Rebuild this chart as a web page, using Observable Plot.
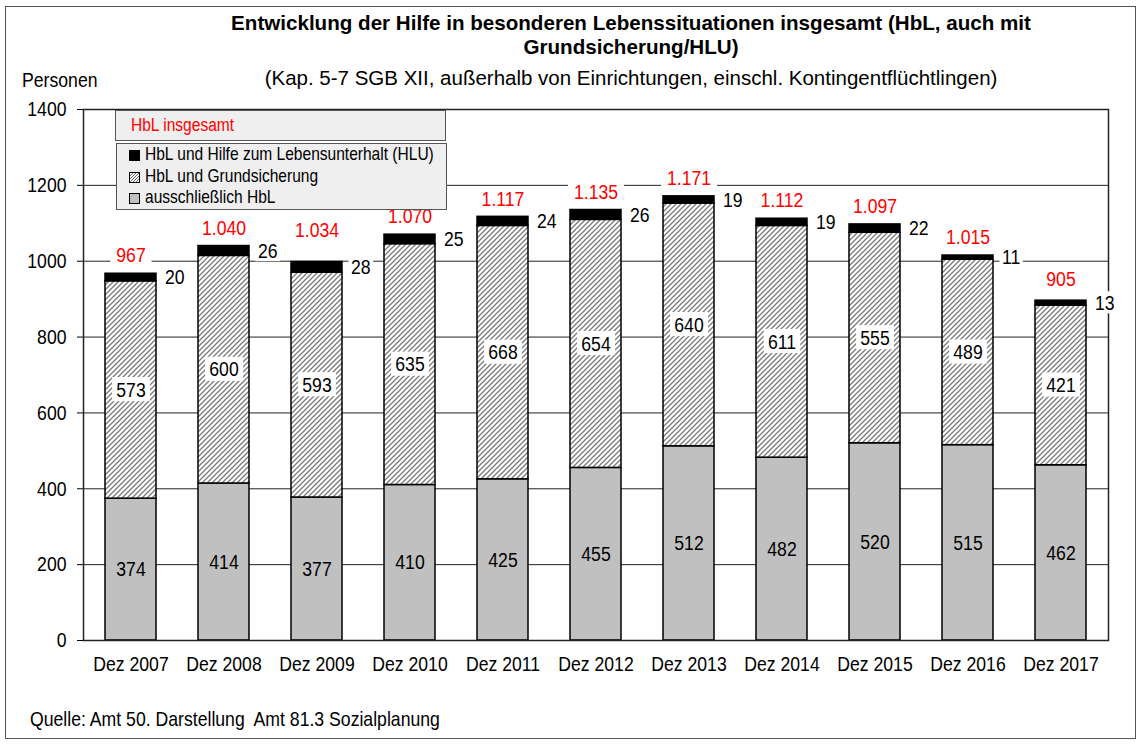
<!DOCTYPE html>
<html>
<head>
<meta charset="utf-8">
<script src="https://cdn.jsdelivr.net/npm/d3@7"></script>
<script src="https://cdn.jsdelivr.net/npm/@observablehq/plot@0.6"></script>
<style>
  html, body { margin: 0; padding: 0; background: #fff; }
  body { width: 1141px; height: 744px; position: relative; overflow: hidden;
         font-family: "Liberation Sans", Arial, sans-serif; color: #000; }
  .abs { position: absolute; line-height: 1; white-space: pre; }
  #frame { position: absolute; left: 5px; top: 6px; width: 1131px; height: 733px; border: 1px solid #555; box-sizing: border-box; }
  #chart { position: absolute; left: 0; top: 95px; }
  .lbox { position: absolute; background: #efefef; border: 1px solid #555; box-sizing: border-box; }
  .sw { position: absolute; width: 11px; height: 11px; box-sizing: border-box; border: 1px solid #000; }
</style>
</head>
<body>
<svg width="0" height="0" style="position:absolute">
  <defs>
    <pattern id="hatch" patternUnits="userSpaceOnUse" width="5" height="5">
      <rect width="5" height="5" fill="#fff"/>
      <path d="M-1,1 l2,-2 M0,5 l5,-5 M4,6 l2,-2" stroke="#7a7a7a" stroke-width="1.3"/>
    </pattern>
    <pattern id="hatchS" patternUnits="userSpaceOnUse" width="3" height="3">
      <rect width="3" height="3" fill="#fff"/>
      <path d="M-1,1 l2,-2 M0,3 l3,-3 M2,4 l2,-2" stroke="#555" stroke-width="0.9"/>
    </pattern>
  </defs>
</svg>
<div id="frame"></div>
<div id="chart"></div>
<script>
// ---- data ----
const years = ["Dez 2007","Dez 2008","Dez 2009","Dez 2010","Dez 2011","Dez 2012","Dez 2013","Dez 2014","Dez 2015","Dez 2016","Dez 2017"];
const nurHbL = [374,414,377,410,425,455,512,482,520,515,462];
const hblGrundsicherung = [573,600,593,635,668,654,640,611,555,489,421];
const hblHLU = [20,26,28,25,24,26,19,19,22,11,13];
const totals = [967,1040,1034,1070,1117,1135,1171,1112,1097,1015,905];
const seriesNames = ["ausschließlich HbL","HbL und Grundsicherung","HbL und Hilfe zum Lebensunterhalt (HLU)"];
const seriesFills = ["#c0c0c0","url(#hatch)","#000000"];
const yTicks = [0,200,400,600,800,1000,1200,1400];

const title1 = "Entwicklung der Hilfe in besonderen Lebenssituationen insgesamt (HbL, auch mit";
const title2 = "Grundsicherung/HLU)";
const subtitle = "(Kap. 5-7 SGB XII, außerhalb von Einrichtungen, einschl. Kontingentflüchtlingen)";
const yLabel = "Personen";
const totalLegend = "HbL insgesamt";
const caption = "Quelle: Amt 50. Darstellung  Amt 81.3 Sozialplanung";

// ---- tables ----
const de = d3.formatLocale({decimal: ",", thousands: ".", grouping: [3], currency: ["", " €"]});
const fmt = de.format(",d");
const rows = [];
years.forEach((y, i) => {
  const vals = [nurHbL[i], hblGrundsicherung[i], hblHLU[i]];
  let base = 0;
  vals.forEach((v, k) => {
    rows.push({year: y, series: seriesNames[k], value: v, mid: base + v / 2, k});
    base += v;
  });
});
const totalRows = years.map((y, i) => ({year: y, total: totals[i], label: fmt(totals[i])}));

const FONT = '"Liberation Sans", Arial, sans-serif';
const SX = 0.84; // horizontal compression of chart texts

const plot = Plot.plot({
  width: 1141,
  height: 610,
  marginTop: 14,
  marginBottom: 65,
  marginLeft: 83,
  marginRight: 33,
  style: {fontFamily: FONT, fontSize: "21px", color: "#000", background: "transparent", overflow: "visible"},
  x: {domain: years, paddingInner: 0.45, paddingOuter: 0.225, align: 0.5, label: null, tickSize: 0, tickPadding: 16},
  y: {domain: [0, 1400], ticks: yTicks, tickFormat: d => String(d), tickSize: 6, tickPadding: 11, label: null},
  color: {domain: seriesNames, range: seriesFills},
  marks: [
    Plot.ruleY(yTicks.slice(1, -1), {stroke: "#222", strokeWidth: 1}),
    Plot.barY(rows, {x: "year", y: "value", fill: "series", stroke: "#000", strokeWidth: 1.5, order: seriesNames}),
    Plot.frame({stroke: "#222", strokeWidth: 1.5}),
    Plot.text(rows.filter(d => d.k === 0), {x: "year", y: "mid", text: d => String(d.value), fontSize: 21, fill: "#000"}),
    Plot.text(rows.filter(d => d.k === 1), {x: "year", y: "mid", text: d => String(d.value), fontSize: 21, fill: "#000", fontVariant: "normal"}),
    Plot.text(rows.filter(d => d.k === 2), {x: "year", y: "mid", text: d => String(d.value), fontSize: 21, fill: "#000", fontStyle: "normal", textAnchor: "start", dx: 34}),
    Plot.text(totalRows, {x: "year", y: "total", text: "label", fontSize: 21, fill: "red", dy: -18})
  ]
});
document.getElementById("chart").appendChild(plot);

// compress all chart texts horizontally around their anchor point
plot.querySelectorAll("text").forEach(t => {
  const xa = t.getAttribute("x");
  if (xa != null && /^-?[\d.]+$/.test(xa.trim())) t.setAttribute("x", (+xa) / SX);
  const old = t.getAttribute("transform") || "";
  t.setAttribute("transform", `${old} scale(${SX},1)`.trim());
});

// white boxes behind selected labels
function boxify(selector, padX, padY) {
  plot.querySelectorAll(selector).forEach(t => {
    const b = t.getBBox();
    const r = document.createElementNS("http://www.w3.org/2000/svg", "rect");
    const trim = b.height * 0.12;
    r.setAttribute("x", b.x - padX);
    r.setAttribute("y", b.y + trim - padY);
    r.setAttribute("width", b.width + 2 * padX);
    r.setAttribute("height", b.height - 2 * trim + 2 * padY);
    r.setAttribute("fill", "#fff");
    const tr = t.getAttribute("transform");
    if (tr) r.setAttribute("transform", tr);
    t.parentNode.insertBefore(r, t);
  });
}
boxify('g[font-variant="normal"] text', 5, 3);
boxify('g[font-style="normal"] text', 3, 2);
boxify('g[fill="red"] text', 7, 1);

// ---- HTML texts ----
function addText(str, x, baseline, size, opts = {}) {
  const d = document.createElement("div");
  d.className = "abs";
  d.textContent = str;
  d.style.fontSize = size + "px";
  d.style.top = (baseline - 0.85 * size) + "px";
  if (opts.center) {
    d.style.left = (x - 600) + "px";
    d.style.width = "1200px";
    d.style.textAlign = "center";
  } else {
    d.style.left = x + "px";
    d.style.transformOrigin = "0 0";
  }
  if (opts.sx) d.style.transform = `scaleX(${opts.sx})`;
  if (opts.bold) d.style.fontWeight = "bold";
  if (opts.color) d.style.color = opts.color;
  document.body.appendChild(d);
  return d;
}
addText(title1, 631, 31, 20.6, {center: true, bold: true});
addText(title2, 631, 55, 20.6, {center: true, bold: true});
addText(subtitle, 631, 85, 20.5, {center: true});
addText(yLabel, 22, 87, 21, {sx: SX});
addText(caption, 30, 726, 21, {sx: SX});

// legend
function box(x, y, w, h) {
  const b = document.createElement("div");
  b.className = "lbox";
  Object.assign(b.style, {left: x + "px", top: y + "px", width: w + "px", height: h + "px"});
  document.body.appendChild(b);
}
box(115, 110, 331, 31);
addText(totalLegend, 131, 132, 18.5, {color: "red", sx: SX});
box(116, 143, 331, 67);
const legendOrder = [2, 1, 0];
legendOrder.forEach((k, j) => {
  const base = 161 + j * 21.5;
  const s = document.createElement("div");
  s.className = "sw";
  Object.assign(s.style, {left: "129px", top: (base - 11) + "px"});
  if (k === 1) {
    s.innerHTML = '<svg width="9" height="9" style="display:block"><rect width="9" height="9" fill="url(#hatchS)"/></svg>';
  } else {
    s.style.background = seriesFills[k];
  }
  document.body.appendChild(s);
  addText(seriesNames[k], 145, base, 18.5, {sx: SX});
});
</script>
</body>
</html>
